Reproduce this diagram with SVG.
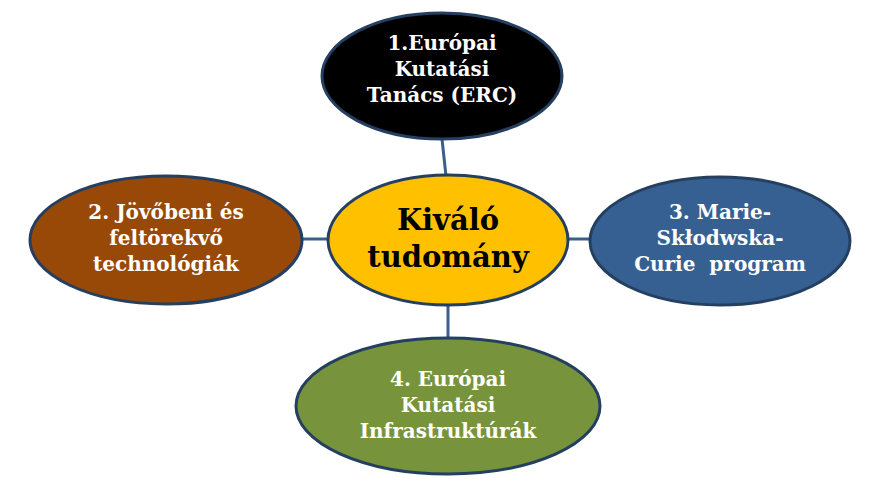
<svg xmlns="http://www.w3.org/2000/svg" width="891" height="486" viewBox="0 0 891 486">
<style>
.n{stroke:#243F60;stroke-width:3}
.t{font-family:"DejaVu Serif","Liberation Serif",serif;font-weight:bold;font-size:20px;fill:#fff;text-anchor:middle}
.c{font-family:"DejaVu Serif","Liberation Serif",serif;font-weight:bold;font-size:29px;fill:#000;text-anchor:middle}
.e{stroke:#3A5F8E;stroke-width:3}
</style>
<rect width="891" height="486" fill="#fff"/>
<g id="connectors">
<line class="e" x1="442" y1="139" x2="446" y2="176"/>
<line class="e" x1="301" y1="239" x2="329" y2="239"/>
<line class="e" x1="567" y1="239" x2="591" y2="239"/>
<line class="e" x1="448" y1="304" x2="448" y2="339"/>
</g>
<g id="top"><ellipse class="n" cx="442" cy="76" rx="120" ry="63" fill="#000"/>
<text class="t" x="442" y="50">1.Európai</text><text class="t" x="442" y="76">Kutatási</text><text class="t" x="442" y="102">Tanács (ERC)</text></g>
<g id="left"><ellipse class="n" cx="166" cy="240" rx="136" ry="64" fill="#984807"/>
<text class="t" x="166" y="219">2. Jövőbeni és</text><text class="t" x="166" y="245">feltörekvő</text><text class="t" x="166" y="271">technológiák</text></g>
<g id="center"><ellipse class="n" cx="448" cy="240" rx="120" ry="65" fill="#FFC000"/>
<text class="c" x="448" y="230">Kiváló</text><text class="c" x="448" y="267">tudomány</text></g>
<g id="right"><ellipse class="n" cx="720" cy="241" rx="130" ry="64" fill="#366092"/>
<text class="t" x="720" y="219">3. Marie-</text><text class="t" x="720" y="245">Skłodwska-</text><text class="t" x="720" y="271" xml:space="preserve">Curie  program</text></g>
<g id="bottom"><ellipse class="n" cx="448" cy="406" rx="152" ry="68" fill="#77933C"/>
<text class="t" x="448" y="386">4. Európai</text><text class="t" x="448" y="412">Kutatási</text><text class="t" x="448" y="438">Infrastruktúrák</text></g>
</svg>
